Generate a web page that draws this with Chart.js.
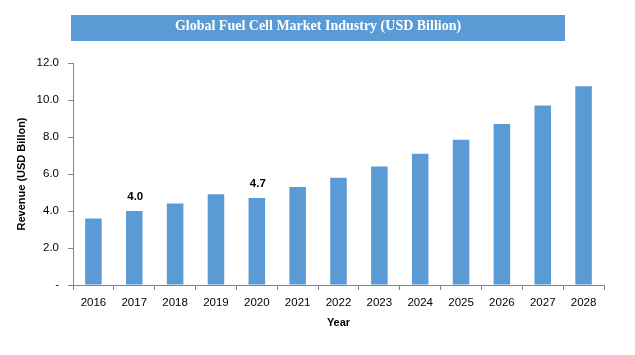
<!DOCTYPE html>
<html>
<head>
<meta charset="utf-8">
<script src="https://cdn.jsdelivr.net/npm/chart.js@4.4.1/dist/chart.umd.min.js"></script>
<style>
html,body{margin:0;padding:0;background:#fff;}
canvas{display:block;}
</style>
</head>
<body>
<canvas id="c" width="635" height="355"></canvas>
<script>
const years = ['2016','2017','2018','2019','2020','2021','2022','2023','2024','2025','2026','2027','2028'];
const revenue = [3.6, 4.0, 4.4, 4.9, 4.7, 5.3, 5.8, 6.4, 7.1, 7.85, 8.7, 9.7, 10.75];
const labeledYears = ['2017', '2020'];
const yTicks = [0, 2, 4, 6, 8, 10, 12];
const chartTitle = 'Global Fuel Cell Market Industry (USD Billion)';
const yTitle = 'Revenue (USD Billon)';
const xTitle = 'Year';

const BLUE = '#5B9BD5';
const AXIS = '#868686';

const titleBox = {
  id: 'titleBox',
  beforeDraw(chart) {
    const ctx = chart.ctx;
    ctx.save();
    ctx.fillStyle = BLUE;
    ctx.fillRect(71, 15, 494, 26);
    ctx.fillStyle = '#ffffff';
    ctx.font = 'bold 14px "Liberation Serif", "Times New Roman", serif';
    ctx.textAlign = 'center';
    ctx.textBaseline = 'middle';
    ctx.fillText(chartTitle, 318, 26.5);
    ctx.restore();
  }
};

const valueLabels = {
  id: 'valueLabels',
  afterDatasetsDraw(chart) {
    const ctx = chart.ctx;
    const meta = chart.getDatasetMeta(0);
    ctx.save();
    ctx.fillStyle = '#000';
    ctx.font = 'bold 11.5px "Liberation Sans", Arial, sans-serif';
    ctx.textAlign = 'center';
    ctx.textBaseline = 'middle';
    years.forEach((y, i) => {
      if (labeledYears.includes(y)) {
        const el = meta.data[i];
        ctx.fillText(revenue[i].toFixed(1), el.x + 1, el.y - 14);
      }
    });
    ctx.restore();
  }
};

new Chart(document.getElementById('c'), {
  type: 'bar',
  data: {
    labels: years,
    datasets: [{
      data: revenue,
      backgroundColor: BLUE,
      borderWidth: 0,
      barPercentage: 0.5,
      categoryPercentage: 0.81
    }]
  },
  options: {
    responsive: false,
    animation: false,
    layout: { padding: { left: 0, right: 31, top: 63, bottom: 0 } },
    plugins: {
      legend: { display: false },
      tooltip: { enabled: false },
      title: { display: false }
    },
    scales: {
      x: {
        grid: { display: true, drawOnChartArea: false, drawTicks: true, tickLength: 5, color: AXIS, offset: true },
        border: { display: true, color: AXIS, width: 1 },
        ticks: { color: '#000', font: { family: '"Liberation Sans", Arial, sans-serif', size: 11.5 }, padding: 6, maxRotation: 0 },
        title: { display: true, text: xTitle, color: '#000', font: { family: '"Liberation Sans", Arial, sans-serif', size: 11, weight: 'bold' }, padding: { top: 0, bottom: 25 } },
        afterFit(scale) { scale.height = 70; }
      },
      y: {
        min: 0,
        max: 12,
        afterBuildTicks(scale) { scale.ticks = yTicks.map(v => ({ value: v })); },
        grid: { display: true, drawOnChartArea: false, drawTicks: true, tickLength: 5, color: AXIS },
        border: { display: true, color: AXIS, width: 1 },
        ticks: {
          color: '#000',
          font: { family: '"Liberation Sans", Arial, sans-serif', size: 11.5 },
          padding: 9,
          callback: v => v === 0 ? '-' : Number(v).toFixed(1)
        },
        title: { display: true, text: yTitle, color: '#000', font: { family: '"Liberation Sans", Arial, sans-serif', size: 11, weight: 'bold' }, padding: { top: 15, bottom: 0 } },
        afterFit(scale) { scale.width = 73; }
      }
    }
  },
  plugins: [titleBox, valueLabels]
});
</script>
</body>
</html>
